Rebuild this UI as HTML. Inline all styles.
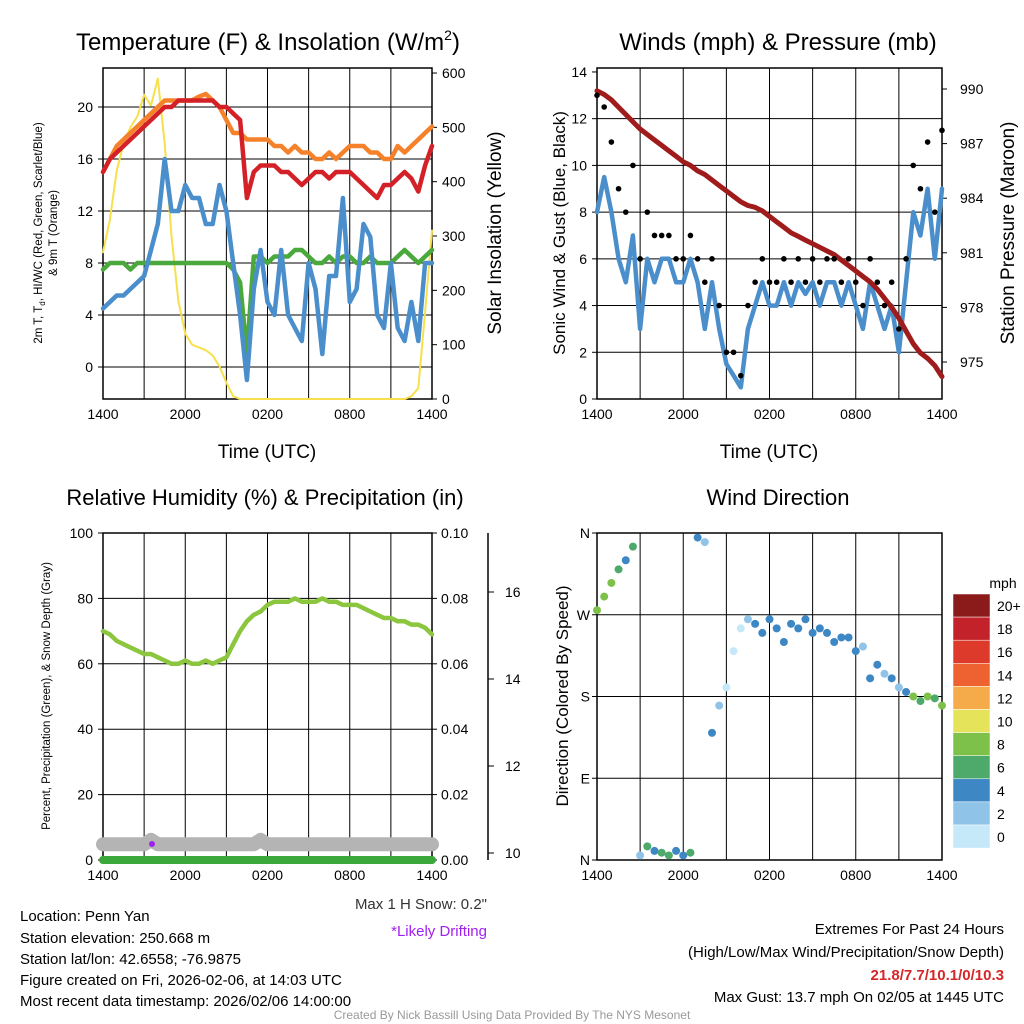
<!DOCTYPE html>
<html><head><meta charset="utf-8"><style>
body{margin:0;background:#fff}
svg{display:block;font-family:"Liberation Sans",sans-serif}
</style></head><body>
<svg id="s" width="1024" height="1024" viewBox="0 0 1024 1024">
<rect width="1024" height="1024" fill="#fff"/>
<g id="p1"></g>
<g id="p2"></g>
<g id="p3"></g>
<g id="p4"></g>
<g font-size="15" fill="#000">
<text x="20" y="921">Location: Penn Yan</text>
<text x="20" y="943">Station elevation: 250.668 m</text>
<text x="20" y="964">Station lat/lon: 42.6558; -76.9875</text>
<text x="20" y="985">Figure created on Fri, 2026-02-06, at 14:03 UTC</text>
<text x="20" y="1006">Most recent data timestamp: 2026/02/06 14:00:00</text>
<text x="487" y="909" text-anchor="end" fill="#333">Max 1 H Snow: 0.2"</text>
<text x="487" y="936" text-anchor="end" fill="#a020f0">*Likely Drifting</text>
<text x="1004" y="934" text-anchor="end">Extremes For Past 24 Hours</text>
<text x="1004" y="957" text-anchor="end">(High/Low/Max Wind/Precipitation/Snow Depth)</text>
<text x="1004" y="980" text-anchor="end" fill="#d62728" font-weight="bold">21.8/7.7/10.1/0/10.3</text>
<text x="1004" y="1002" text-anchor="end">Max Gust: 13.7 mph On 02/05 at 1445 UTC</text>
<text x="512" y="1019" text-anchor="middle" font-size="12" fill="#999">Created By Nick Bassill Using Data Provided By The NYS Mesonet</text>
</g>
</svg>
<script>
const timeLabels=["1400","2000","0200","0800","1400"];
const orangeT=[15,16,17,17.5,18,18.5,19,19.5,20,20.5,20.5,20.5,20.5,20.5,20.8,21,20.5,20,19,18,18,17.5,17.5,17.5,17.5,17,17,16.5,17,16.5,16.5,16,16,16.5,16,16.5,17,17,17,16.5,16.5,16,16,17,16.5,17,17.5,18,18.5];
const redT=[15,16,16.5,17,17.5,18,18.5,19,19.5,20,20,20.5,20.5,20.5,20.5,20.5,20.5,20,20,19.5,19,13,15,15.5,15.5,15.5,15,15,14.5,14,14.5,15,15,14.5,15,15,15,14.5,14,13.5,13,14,14,14.5,15,14.5,13.5,15.5,17];
const greenTd=[7.5,8,8,8,7.5,8,8,8,8,8,8,8,8,8,8,8,8,8,8,7.5,6.5,1,8.5,8.5,8,8.5,8.5,8.5,9,9,8.5,8,8,8.5,8,8.5,8.5,8,8,8.5,8,8,8,8.5,9,8.5,8,8.5,9];
const blueWC=[4.5,5,5.5,5.5,6,6.5,7,9,11,16,12,12,14,13,13,11,11,14,12,8,4,-1,6,9,5,4,9,4,3,2,8,6,1,7,7,13,5,6,11,10,4,3,8,3,2,5,2,8,8];
const insol=[270,330,420,470,500,520,560,540,590,470,300,180,120,100,95,90,80,60,30,5,0,0,0,0,0,0,0,0,0,0,0,0,0,0,0,0,0,0,0,0,0,0,0,0,0,5,20,160,310];
const windSpd=[8,9.5,8,6,5,7,3,6,5,6,6,5,5,6,5,3,5,3,1.5,1,0.5,3,4,5,4,4,5,4,5,4.5,5,4,5,5,4,5,4,3,5,4,3,4,2,5,8,7,9,6,9];
const gustSpd=[13,12.5,11,9,8,10,6,8,7,7,7,6,6,7,6,5,6,4,2,2,1,4,5,6,5,5,6,5,6,5,6,5,6,6,5,6,5,4,6,5,4,5,3,6,10,9,11,8,11.5];
const pressure=[989.9,989.7,989.4,989.0,988.6,988.2,987.8,987.5,987.2,986.9,986.6,986.3,986.0,985.8,985.5,985.3,985.0,984.7,984.4,984.1,983.8,983.6,983.5,983.3,983.0,982.7,982.4,982.1,981.9,981.7,981.5,981.3,981.1,980.9,980.6,980.3,980.0,979.7,979.4,979.0,978.5,978.0,977.4,976.7,976.0,975.5,975.2,974.8,974.2];
const rh=[70,69,67,66,65,64,63,63,62,61,60,60,61,60,60,61,60,61,62,66,70,73,75,76,78,79,79,79,80,79,79,79,80,79,79,78,78,78,77,76,75,74,74,73,73,72,72,71,69];
const snowDepth=[10.2,10.2,10.2,10.2,10.2,10.2,10.2,10.3,10.2,10.2,10.2,10.2,10.2,10.2,10.2,10.2,10.2,10.2,10.2,10.2,10.2,10.2,10.2,10.3,10.2,10.2,10.2,10.2,10.2,10.2,10.2,10.2,10.2,10.2,10.2,10.2,10.2,10.2,10.2,10.2,10.2,10.2,10.2,10.2,10.2,10.2,10.2,10.2,10.2];
const precip=[0,0,0,0,0,0,0,0,0,0,0,0,0,0,0,0,0,0,0,0,0,0,0,0,0,0,0,0,0,0,0,0,0,0,0,0,0,0,0,0,0,0,0,0,0,0,0,0,0];
const windDir=[275,290,305,320,330,345,5,15,10,8,5,10,5,8,355,350,140,170,190,230,255,265,260,250,265,255,240,260,255,265,250,255,250,240,245,245,230,235,200,215,205,200,190,185,180,175,180,178,170];
const cbLabels=["20+","18","16","14","12","10","8","6","4","2","0"];
const cbColors=["#8b1a1a","#c4222a","#dd3a2c","#ee6231","#f5ab4a","#e5e35a","#7dc14b","#4daa6a","#3d87c4","#8fc3e8","#c6e9fa"];

const NS="http://www.w3.org/2000/svg";
function mk(p,tag,a,txt){const e=document.createElementNS(NS,tag);for(const k in a)e.setAttribute(k,a[k]);if(txt!==undefined)e.textContent=txt;p.appendChild(e);return e;}
function frame(g,x0,x1,y0,y1,hgrid){
  for(let i=0;i<=8;i++){const x=x0+(x1-x0)*i/8;const l=mk(g,'line',{x1:x,x2:x,y1:y0,y2:y1,stroke:'#000','stroke-width':1});
  
  }
  hgrid.forEach(y=>{const l=mk(g,'line',{x1:x0,x2:x1,y1:y,y2:y,stroke:'#000','stroke-width':1});
  
  });
  const r=mk(g,'rect',{x:x0,y:y0,width:x1-x0,height:y1-y0,fill:'none',stroke:'#000','stroke-width':1.5});
  
  
  timeLabels.forEach((t,i)=>{const x=x0+(x1-x0)*i/4;const e=mk(g,'text',{x:x,y:y1+20,'font-size':14,'text-anchor':'middle'},t);
  
  });
}
function line(g,xs,vals,fy,color,w,name){
  const d=vals.map((v,i)=>(i?'L':'M')+xs(i).toFixed(1)+','+fy(v).toFixed(1)).join('');
  const p=mk(g,'path',{d:d,fill:'none',stroke:color,'stroke-width':w,'stroke-linejoin':'round','stroke-linecap':'round'});
  
  
}
function txt(g,x,y,s,t,name,extra){const a=Object.assign({x:x,y:y,'font-size':s,'text-anchor':'middle'},extra||{});const e=mk(g,'text',a,t);
  
  return e;}

// Panel 1
(function(){
const g=document.getElementById('p1');const x0=103,x1=432,y0=68,y1=399;
const xs=i=>x0+(x1-x0)*i/(orangeT.length-1);
const fy=v=>367-13*v;const fr=v=>399-v*0.5433;
frame(g,x0,x1,y0,y1,[107,159,211,263,315,367]);
[0,4,8,12,16,20].forEach(v=>{txt(g,x0-10,fy(v)+5,14,String(v),'left-tick-label',{'text-anchor':'end'});mk(g,'line',{x1:x0-5,x2:x0,y1:fy(v),y2:fy(v),stroke:'#000'});});
[0,100,200,300,400,500,600].forEach(v=>{txt(g,x1+10,fr(v)+5,14,String(v),'right-tick-label',{'text-anchor':'start'});mk(g,'line',{x1:x1,x2:x1+5,y1:fr(v),y2:fr(v),stroke:'#000'});});
line(g,xs,insol,fr,'#f7e04b',2,'insolation-line');
line(g,xs,orangeT,fy,'#f5822a',4.5,'orange-9m-temp');
line(g,xs,greenTd,fy,'#4aa83c',4.5,'green-dewpoint');
line(g,xs,redT,fy,'#d42027',4.5,'red-2m-temp');
line(g,xs,blueWC,fy,'#4a8fcc',4.5,'blue-windchill');
const t=txt(g,268,50,24,'Temperature (F) & Insolation (W/m','panel-title');
const ts=mk(t,'tspan',{dy:-10,'font-size':14},'2');mk(t,'tspan',{dy:10},')');
txt(g,267,458,19,'Time (UTC)','x-axis-title');
txt(g,0,0,11.5,'2m T, T',"left-axis-title",{transform:'translate(42,233) rotate(-90)'}).innerHTML='2m T, T<tspan font-size="8" dy="3">d</tspan><tspan dy="-3">, HI/WC (Red, Green, Scarlet/Blue)</tspan>';
txt(g,0,0,11.5,'& 9m T (Orange)','left-axis-title-2',{transform:'translate(57,233) rotate(-90)'});
txt(g,0,0,19,'Solar Insolation (Yellow)','right-axis-title',{transform:'translate(501,233) rotate(-90)'});
})();

// Panel 2
(function(){
const g=document.getElementById('p2');const x0=597,x1=942,y0=68,y1=399;
const xs=i=>x0+(x1-x0)*i/(windSpd.length-1);
const fy=v=>399-23.36*v;const fp=v=>89+(990-v)*18.2;
frame(g,x0,x1,y0,y1,[2,4,6,8,10,12].map(fy));
[0,2,4,6,8,10,12,14].forEach(v=>{txt(g,x0-10,fy(v)+5,14,String(v),'left-tick-label',{'text-anchor':'end'});mk(g,'line',{x1:x0-5,x2:x0,y1:fy(v),y2:fy(v),stroke:'#000'});});
[990,987,984,981,978,975].forEach(v=>{txt(g,x1+18,fp(v)+5,14,String(v),'right-tick-label',{'text-anchor':'start'});mk(g,'line',{x1:x1,x2:x1+5,y1:fp(v),y2:fp(v),stroke:'#000'});});
line(g,xs,windSpd,fy,'#4a8fcc',4.5,'sonic-wind-line');
line(g,xs,pressure,fp,'#a01c1c',5,'pressure-line');
gustSpd.forEach((v,i)=>{const c=mk(g,'circle',{cx:xs(i),cy:fy(v),r:2.8,fill:'#000'});

});
txt(g,778,50,24,'Winds (mph) & Pressure (mb)','panel-title');
txt(g,769,458,19,'Time (UTC)','x-axis-title');
txt(g,0,0,17,'Sonic Wind & Gust (Blue, Black)','left-axis-title',{transform:'translate(565,233) rotate(-90)'});
txt(g,0,0,19,'Station Pressure (Maroon)','right-axis-title',{transform:'translate(1014,233) rotate(-90)'});
})();

// Panel 3
(function(){
const g=document.getElementById('p3');const x0=103,x1=432,y0=533,y1=860;
const xs=i=>x0+(x1-x0)*i/(rh.length-1);
const fy=v=>860-3.27*v;const fpr=v=>860-v*3270;const fs=v=>853-(v-10)*43.5;
frame(g,x0,x1,y0,y1,[20,40,60,80].map(fy));
[0,20,40,60,80,100].forEach(v=>{txt(g,x0-10,fy(v)+5,14,String(v),'left-tick-label',{'text-anchor':'end'});mk(g,'line',{x1:x0-5,x2:x0,y1:fy(v),y2:fy(v),stroke:'#000'});});
[0,0.02,0.04,0.06,0.08,0.10].forEach(v=>{txt(g,x1+9,fpr(v)+5,14,v.toFixed(2),'right-tick-label',{'text-anchor':'start'});mk(g,'line',{x1:x1,x2:x1+5,y1:fpr(v),y2:fpr(v),stroke:'#000'});});
mk(g,'line',{x1:488,x2:488,y1:533,y2:860,stroke:'#000','stroke-width':1.5});
[10,12,14,16].forEach(v=>{txt(g,505,fs(v)+5,14,String(v),'snow-tick-label',{'text-anchor':'start'});mk(g,'line',{x1:488,x2:494,y1:fs(v),y2:fs(v),stroke:'#000'});});
line(g,xs,snowDepth,fs,'#b4b4b4',14,'snow-depth-line');
line(g,xs,precip,fpr,'#3aa83a',8,'precip-line');
line(g,xs,rh,fy,'#8cc63f',4.5,'rh-line');
const c=mk(g,'circle',{cx:152,cy:844,r:3,fill:'#a020f0'});


txt(g,265,505,22,'Relative Humidity (%) & Precipitation (in)','panel-title');
txt(g,0,0,11.5,'Percent, Precipitation (Green), & Snow Depth (Gray)','left-axis-title',{transform:'translate(50,696) rotate(-90)'});
})();

// Panel 4
(function(){
const g=document.getElementById('p4');const x0=597,x1=942,y0=533,y1=860;
const xs=i=>x0+(x1-x0)*i/(windDir.length-1);
const fd=v=>860-v*(327/360);
frame(g,x0,x1,y0,y1,[90,180,270].map(fd));
[['N',0],['E',90],['S',180],['W',270],['N',360]].forEach(([l,v])=>{txt(g,x0-7,fd(v)+5,14,l,'direction-tick-label',{'text-anchor':'end'});mk(g,'line',{x1:x0-5,x2:x0,y1:fd(v),y2:fd(v),stroke:'#000'});});
function col(s){const b=Math.min(10,Math.floor(s/2));return cbColors[10-b];}
windDir.forEach((v,i)=>{const c=mk(g,'circle',{cx:xs(i),cy:fd(v),r:4,fill:col(windSpd[i])});

});
txt(g,778,505,22,'Wind Direction','panel-title');
txt(g,0,0,17,'Direction (Colored By Speed)','left-axis-title',{transform:'translate(568,696) rotate(-90)'});
txt(g,1003,588,14,'mph','colorbar-title');
cbColors.forEach((c,i)=>{const r=mk(g,'rect',{x:953,y:594+i*23.1,width:37,height:23.1,fill:c,stroke:'#fff','stroke-width':0.5});


txt(g,997,611+i*23.1,14,cbLabels[i],'colorbar-label',{'text-anchor':'start'});});
})();
</script>
</body></html>
